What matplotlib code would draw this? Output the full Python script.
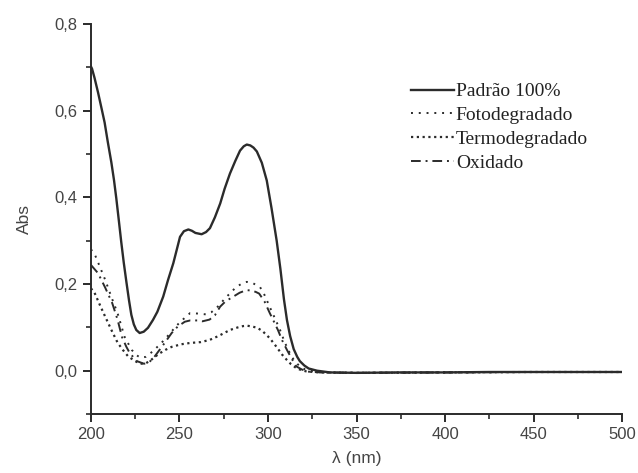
import matplotlib
matplotlib.use("Agg")
import matplotlib.pyplot as plt
from matplotlib.ticker import MultipleLocator, FuncFormatter

# valores (lambda em nm, absorbância)
wl_padrao = [200, 200.6, 202, 204, 206, 207.7, 209.5, 211.5, 213, 214.3, 215.7,
             217.1, 218.5, 220, 221.5, 222.8, 224.2, 225.6, 227.5, 229.8, 232.2,
             235, 237.5, 240.8, 243.5, 246.5, 248.5, 250.3, 252.5, 255, 257, 259,
             262.5, 265, 267.2, 270, 273, 275.5, 278.5, 281.5, 284.2, 286.3, 288,
             290, 291.8, 293.7, 296.5, 299.3, 302, 304.9, 307, 309, 310.7, 312.5,
             314.5, 316.5, 318, 320.5, 323, 327.7, 335, 350, 375, 400, 425, 450,
             475, 500]
abs_padrao = [0.702, 0.697, 0.676, 0.642, 0.605, 0.573, 0.528, 0.481, 0.440, 0.398,
              0.348, 0.297, 0.250, 0.205, 0.162, 0.129, 0.107, 0.094, 0.087, 0.090,
              0.099, 0.117, 0.136, 0.171, 0.209, 0.248, 0.280, 0.309, 0.322, 0.326,
              0.323, 0.318, 0.315, 0.320, 0.329, 0.354, 0.386, 0.420, 0.455, 0.484,
              0.508, 0.518, 0.522, 0.520, 0.515, 0.506, 0.480, 0.439, 0.375, 0.300,
              0.235, 0.165, 0.117, 0.080, 0.050, 0.032, 0.022, 0.012, 0.005, 0.000,
              -0.004, -0.005, -0.004, -0.004, -0.003, -0.003, -0.003, -0.003]

wl_foto = [200, 202, 205, 208, 212, 215, 219, 223, 226, 228, 231, 235, 240, 244,
           247.5, 250.5, 253, 256, 260, 265, 268, 271, 276, 282, 286, 288, 291,
           295.5, 298, 301, 304, 306.8, 309.5, 312.4, 315, 318, 321, 324, 330, 350,
           400, 450, 500]
abs_foto = [0.280, 0.270, 0.240, 0.210, 0.165, 0.133, 0.078, 0.048, 0.035, 0.030,
            0.032, 0.045, 0.065, 0.083, 0.100, 0.113, 0.122, 0.133, 0.132, 0.130,
            0.135, 0.145, 0.168, 0.193, 0.203, 0.205, 0.203, 0.193, 0.175, 0.147,
            0.120, 0.094, 0.065, 0.040, 0.022, 0.010, 0.003, 0.000, -0.004, -0.005,
            -0.004, -0.003, -0.003]

wl_termo = [200, 202, 205, 208, 212, 215, 218, 221, 225, 228, 231, 234, 238, 242,
            245.6, 251, 256, 262, 267, 272, 278.5, 283, 286, 288, 291, 294, 297,
            301, 304.8, 308, 310.6, 313, 316, 319, 322, 330, 350, 400, 450, 500]
abs_termo = [0.190, 0.180, 0.152, 0.125, 0.090, 0.065, 0.048, 0.033, 0.022, 0.016,
             0.017, 0.025, 0.038, 0.048, 0.055, 0.061, 0.064, 0.066, 0.071, 0.080,
             0.094, 0.100, 0.103, 0.104, 0.102, 0.099, 0.091, 0.075, 0.055, 0.037,
             0.025, 0.015, 0.006, 0.001, -0.002, -0.004, -0.005, -0.004, -0.003,
             -0.003]

wl_oxid = [200, 204, 208, 212, 215, 217.5, 220, 222, 226, 230, 233, 236, 240, 243,
           245.6, 249, 253, 256, 260, 263, 267, 270, 273, 276, 280, 284, 286.5, 288,
           290.5, 293, 295, 298, 301, 303.5, 305.6, 308, 310.7, 313.5, 316, 319,
           322, 330, 350, 400, 450, 500]
abs_oxid = [0.244, 0.225, 0.192, 0.156, 0.118, 0.078, 0.055, 0.040, 0.022, 0.016,
            0.020, 0.033, 0.055, 0.072, 0.087, 0.102, 0.113, 0.116, 0.116, 0.114,
            0.118, 0.128, 0.148, 0.160, 0.170, 0.180, 0.184, 0.186, 0.185, 0.182,
            0.178, 0.160, 0.133, 0.112, 0.094, 0.070, 0.048, 0.027, 0.010, 0.003,
            -0.002, -0.004, -0.005, -0.004, -0.003, -0.003]

rotulos = ["Padrão 100%", "Fotodegradado", "Termodegradado", "Oxidado"]

cor = "#2b2b2b"
fig = plt.figure(figsize=(6.38, 4.73), dpi=100)
ax = fig.add_axes([0.1426, 0.1247, 0.8324, 0.8243])

ax.plot(wl_padrao, abs_padrao, color=cor, lw=1.7, ls="-", label=rotulos[0])
ax.plot(wl_foto, abs_foto, color=cor, lw=1.4, ls=(0, (1, 3)), label=rotulos[1])
ax.plot(wl_termo, abs_termo, color=cor, lw=1.6, ls=(0, (1, 1.6)), label=rotulos[2])
ax.plot(wl_oxid, abs_oxid, color=cor, lw=1.4, ls=(0, (5, 2.5, 1, 2.5)), label=rotulos[3])

ax.set_xlim(200, 500)
ax.set_ylim(-0.1, 0.8)
ax.xaxis.set_major_locator(MultipleLocator(50))
ax.xaxis.set_minor_locator(MultipleLocator(25))
ax.yaxis.set_major_locator(MultipleLocator(0.2))
ax.yaxis.set_minor_locator(MultipleLocator(0.1))
ax.yaxis.set_major_formatter(FuncFormatter(lambda v, p: ("%.1f" % v).replace(".", ",")))

for s in ["top", "right"]:
    ax.spines[s].set_visible(False)
for s in ["left", "bottom"]:
    ax.spines[s].set_linewidth(1.4)
    ax.spines[s].set_color(cor)

ax.tick_params(which="major", direction="out", length=6, width=1.4, colors=cor,
               labelsize=12, labelcolor="#444444")
ax.tick_params(which="minor", direction="out", length=3.5, width=1.2, colors=cor)
for t in ax.get_xticklabels() + ax.get_yticklabels():
    t.set_family("Liberation Sans")

ax.set_ylabel("Abs", fontsize=12.5, color="#444444", family="Liberation Sans", labelpad=16)
ax.set_xlabel("λ (nm)", fontsize=12.5, color="#444444", family="Liberation Sans", labelpad=6)

leg = ax.legend(loc="upper left", bbox_to_anchor=(403 / 638, 1 - 75 / 473),
                bbox_transform=fig.transFigure, frameon=False, handlelength=2.2,
                handletextpad=0.12, labelspacing=0.32, borderaxespad=0,
                prop={"family": "Liberation Serif", "size": 14})
for t in leg.get_texts():
    t.set_color("#222222")

fig.savefig("out.png", dpi=100)
